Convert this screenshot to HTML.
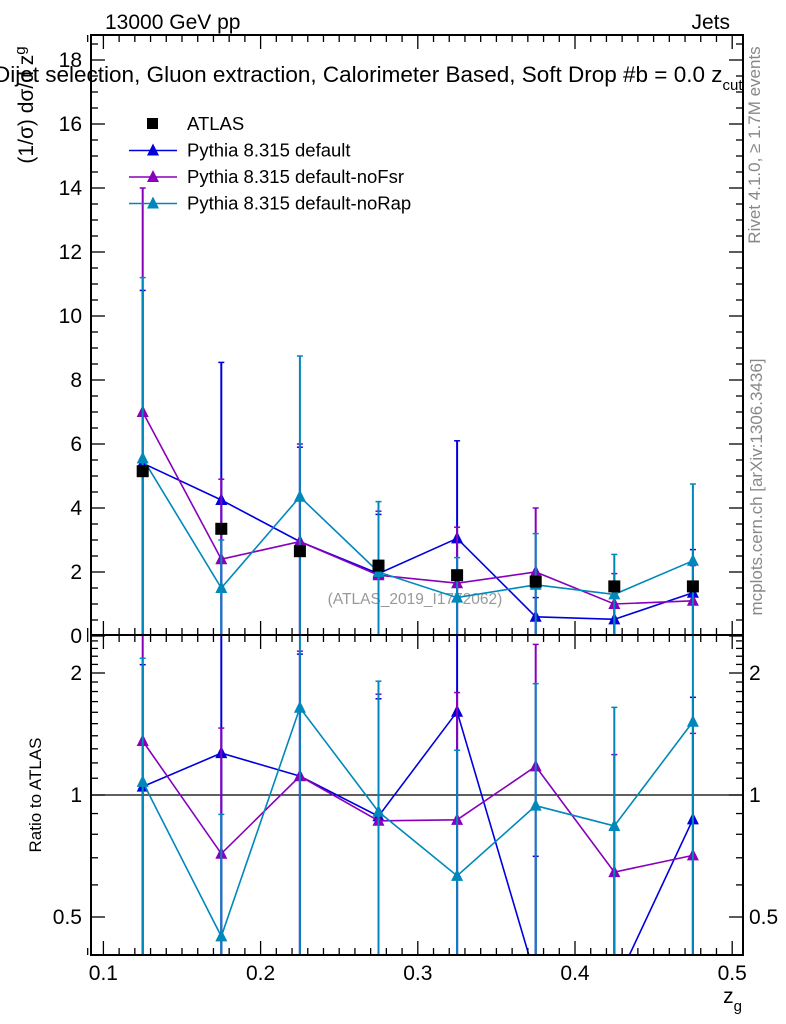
<!DOCTYPE html>
<html><head><meta charset="utf-8"><style>
html,body{margin:0;background:#fff;width:786px;height:1024px;overflow:hidden}
svg{font-family:"Liberation Sans",sans-serif;display:block}
</style></head><body>
<svg id="c" width="786" height="1024" viewBox="0 0 786 1024">
<defs>
<clipPath id="cm"><rect x="91" y="35" width="652" height="600"/></clipPath>
<clipPath id="cr"><rect x="91" y="635" width="652" height="320"/></clipPath>
</defs>
<text x="105" y="29" font-size="21">13000 GeV pp</text>
<text x="730" y="29" font-size="21" text-anchor="end">Jets</text>
<text x="-6" y="82" font-size="22.5">Dijet selection, Gluon extraction, Calorimeter Based, Soft Drop #b = 0.0 z<tspan font-size="15" dy="8">cut</tspan></text>
<text transform="translate(33,105) rotate(-90)" font-size="21" text-anchor="middle">(1/σ) dσ/d z<tspan font-size="15" dy="-8">g</tspan></text>
<text transform="translate(41,795) rotate(-90)" font-size="17" text-anchor="middle">Ratio to ATLAS</text>
<text x="742" y="1003" font-size="21" text-anchor="end">z<tspan font-size="15" dy="8">g</tspan></text>
<text transform="translate(760,145) rotate(-90)" font-size="17" fill="#888" text-anchor="middle">Rivet 4.1.0, ≥ 1.7M events</text>
<text transform="translate(762,487) rotate(-90)" font-size="17" fill="#888" text-anchor="middle">mcplots.cern.ch [arXiv:1306.3436]</text>
<text x="415" y="604" font-size="15.5" fill="#999" text-anchor="middle">(ATLAS_2019_I1772062)</text>
<g id="marks"></g>
<g id="axes"></g>
<g id="legend"></g>
</svg>
<script>
const xCenters=[0.125,0.175,0.225,0.275,0.325,0.375,0.425,0.475];
const atlasVals=[5.15,3.35,2.65,2.2,1.9,1.7,1.55,1.55];
const atlasErr=[0.1,0.08,0.07,0.06,0.06,0.05,0.05,0.06];
const defVals=[5.4,4.25,2.95,1.95,3.05,0.6,0.52,1.35];
const defUp=[10.8,8.55,5.9,3.8,6.1,1.2,1.0,2.7];
const fsrVals=[7.0,2.4,2.95,1.9,1.65,2.0,1.0,1.1];
const fsrUp=[14.0,4.9,6.0,3.9,3.4,4.0,1.95,2.2];
const rapVals=[5.55,1.5,4.35,2.0,1.2,1.6,1.3,2.35];
const rapUp=[11.2,3.0,8.75,4.2,2.45,3.2,2.55,4.75];
const xTickLabels=["0.1","0.2","0.3","0.4","0.5"];
const yTickLabels=["0","2","4","6","8","10","12","14","16","18"];
const rTickLabels=["0.5","1","2"];

const NS="http://www.w3.org/2000/svg";
const X=v=>103.4+(v-0.1)*1572;
const Y=v=>636-32*v;
const R=v=>795-122*Math.log2(v);
const L=91,Rt=743,T=35,M=635,B=955;
function el(tag,a,p){const e=document.createElementNS(NS,tag);for(const k in a)e.setAttribute(k,a[k]);p.appendChild(e);return e;}
const marks=document.getElementById('marks');
const axes=document.getElementById('axes');
const gm=el('g',{'clip-path':'url(#cm)'},marks);
const gr=el('g',{'clip-path':'url(#cr)'},marks);
function tri(g,x,y,c){return el('path',{d:`M${x-6},${y+5}L${x+6},${y+5}L${x},${y-7}Z`,fill:c},g);}
const series=[
 {name:'default',vals:defVals,up:defUp,c:'#0000dd'},
 {name:'nofsr',vals:fsrVals,up:fsrUp,c:'#8800bb'},
 {name:'norap',vals:rapVals,up:rapUp,c:'#0088bb'}];
const l1=el('line',{x1:L,x2:Rt,y1:R(1),y2:R(1),stroke:'#000','stroke-width':1.3},gr);


series.forEach(s=>{
 [[gm,Y,s.vals,s.up,1],[gr,R,s.vals.map((v,i)=>v/atlasVals[i]),s.up.map((u,i)=>u/atlasVals[i]),0]].forEach(([g,F,vals,up,main])=>{
  const gg=el('g',{},g);
  
  
  vals.forEach((v,i)=>{
   const x=X(xCenters[i]);const e=up[i]-v;const lo=v-e;
   const yl=main?Math.min(F(Math.max(lo,0))+(lo<=0?20:0),M):(lo<=0.05?B:Math.min(F(lo),B));
   el('line',{x1:x,x2:x,y1:F(up[i]),y2:yl,stroke:s.c,'stroke-width':2},gg);
   el('line',{x1:x-3,x2:x+3,y1:F(up[i]),y2:F(up[i]),stroke:s.c,'stroke-width':1.5},gg);
  });
  const pts=vals.map((v,i)=>X(xCenters[i])+','+F(Math.max(v,0.01)));
  el('polyline',{points:pts.join(' '),fill:'none',stroke:s.c,'stroke-width':1.6},gg);
  vals.forEach((v,i)=>{const t=tri(gg,X(xCenters[i]),F(Math.max(v,0.01)),s.c);
   });
 });
});
const ga=el('g',{},gm);


atlasVals.forEach((v,i)=>{const x=X(xCenters[i]);
 el('line',{x1:x,x2:x,y1:Y(v+atlasErr[i]),y2:Y(v-atlasErr[i]),stroke:'#000','stroke-width':2},ga);
 const r=el('rect',{x:x-6,y:Y(v)-6,width:12,height:12,fill:'#000'},ga);
 
 });
[[T,M],[M,B]].forEach(([a,b])=>el('rect',{x:L,y:a,width:Rt-L,height:b-a,fill:'none',stroke:'#000','stroke-width':2},axes));
for(let k=9;k<=50;k++){const v=k/100;const x=X(v);const maj=k%10==0;const len=maj?14:7;
 [[M,-1],[B,-1],[T,1],[M,1]].forEach(([y,d])=>el('line',{x1:x,x2:x,y1:y,y2:y+d*len,stroke:'#000','stroke-width':1.3},axes));}
xTickLabels.forEach((t,i)=>{const tx=el('text',{x:X(0.1+i*0.1),y:980,'font-size':21,'text-anchor':'middle'},axes);tx.textContent=t;
 });
for(let k=0;k<=37;k++){const v=k*0.5;const y=Y(v);if(y<T)break;const maj=k%4==0;const len=maj?14:7;
 el('line',{x1:L,x2:L+len,y1:y,y2:y,stroke:'#000','stroke-width':1.3},axes);
 el('line',{x1:Rt,x2:Rt-len,y1:y,y2:y,stroke:'#000','stroke-width':1.3},axes);}
yTickLabels.forEach((t,i)=>{const tx=el('text',{x:82,y:Y(i*2)+7,'font-size':21,'text-anchor':'end'},axes);tx.textContent=t;
 });
[0.5,0.6,0.7,0.8,0.9,1,1.1,1.2,1.3,1.4,1.5,1.6,1.7,1.8,1.9,2,2.1,2.2,2.3,2.4].forEach(v=>{const y=R(v);const maj=[0.5,1,2].includes(v);const len=maj?14:7;
 el('line',{x1:L,x2:L+len,y1:y,y2:y,stroke:'#000','stroke-width':1.3},axes);
 el('line',{x1:Rt,x2:Rt-len,y1:y,y2:y,stroke:'#000','stroke-width':1.3},axes);});
rTickLabels.forEach(t=>{const v=parseFloat(t);
 const a=el('text',{x:82,y:R(v)+7,'font-size':21,'text-anchor':'end'},axes);a.textContent=t;
 
 const b=el('text',{x:749,y:R(v)+7,'font-size':21},axes);b.textContent=t;
 });
const lg=document.getElementById('legend');
const items=[['ATLAS','#000',1],['Pythia 8.315 default','#0000dd',0],['Pythia 8.315 default-noFsr','#8800bb',0],['Pythia 8.315 default-noRap','#0088bb',0]];
items.forEach(([t,c,sq],i)=>{const y=124+i*26.5;const g=el('g',{},lg);
 
 if(sq)el('rect',{x:147,y:y-6,width:11,height:11,fill:'#000'},g);
 else{el('line',{x1:129,x2:177,y1:y,y2:y,stroke:c,'stroke-width':1.6},g);tri(g,153,y,c);}
 const tx=el('text',{x:187,y:y+6,'font-size':18.5},g);tx.textContent=t;});
</script>
</body></html>
